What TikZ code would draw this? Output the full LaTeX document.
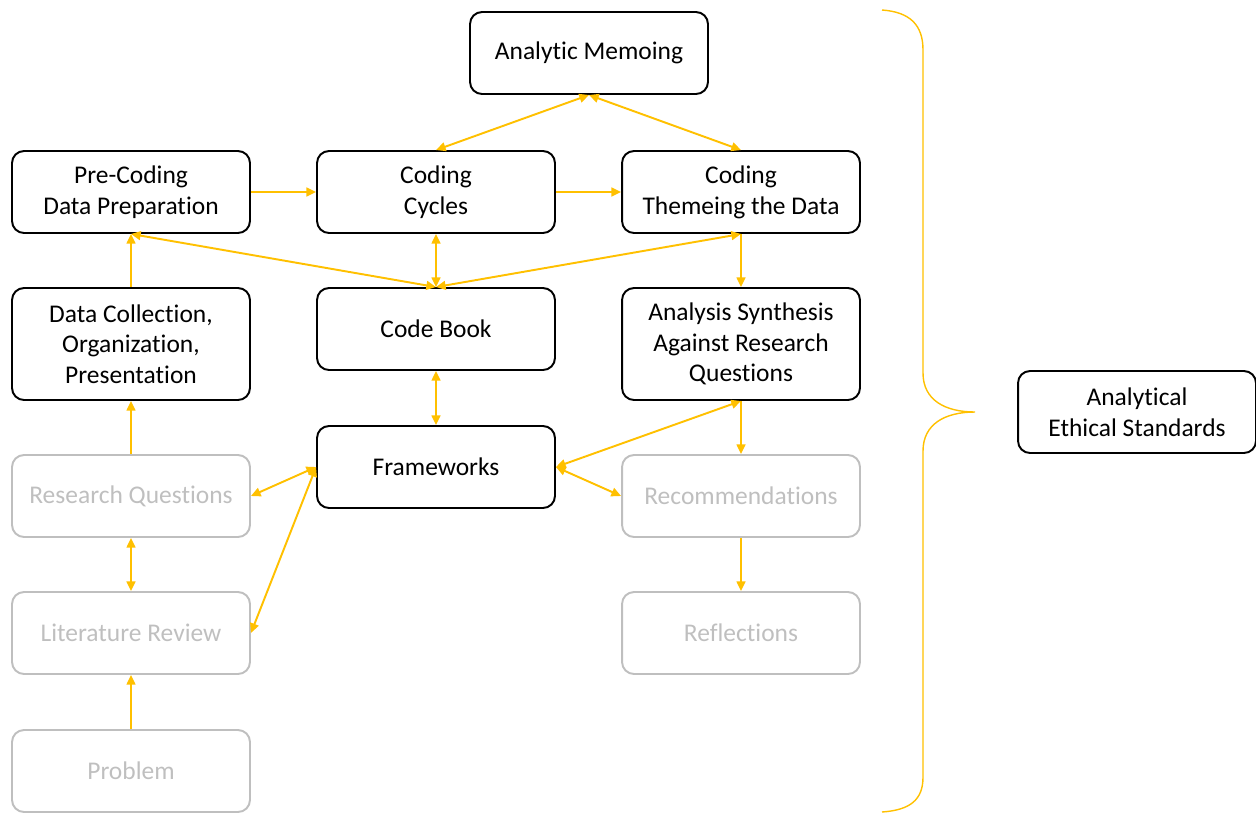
\documentclass[tikz,border=0pt]{standalone}
\usepackage{fontspec}
\setmainfont[Ligatures=NoCommon]{Carlito}
\usetikzlibrary{arrows.meta}
\definecolor{gold}{HTML}{FFC000}
\definecolor{faded}{HTML}{BFBFBF}

\begin{document}
\begin{tikzpicture}[x=0.02cm, y=-0.02cm,
  stage/.style={draw=black, line width=1.1pt, rounded corners=0.24cm, align=center,
    minimum width=4.76cm, minimum height=1.64cm, inner sep=0pt,
    font=\fontsize{14.5}{17.5}\selectfont},
  tall/.style={stage, minimum height=2.24cm},
  later/.style={stage, draw=faded, text=faded},
  flow/.style={gold, line width=1.1pt, -{Triangle[length=5.5pt, width=5pt]}},
  both/.style={flow, {Triangle[length=5.5pt, width=5pt]}-{Triangle[length=5.5pt, width=5pt]}}]
\useasboundingbox (0,0) rectangle (1256,812);

% first row
\node[stage] (memo) at (589,53) {Analytic Memoing};
\node[stage] (precode) at (131,192) {Pre-Coding\\Data Preparation};
\node[stage] (cycles) at (436,192) {Coding\\Cycles};
\node[stage] (theme) at (741,192) {Coding\\Themeing the Data};

% second row
\node[tall] (collect) at (131,344) {Data Collection,\\Organization,\\Presentation};
\node[stage] (codebook) at (436,329) {Code Book};
\node[tall] (synth) at (741,344) {Analysis Synthesis\\Against Research\\Questions};

% lower rows
\node[later] (rq) at (131,496) {Research Questions};
\node[stage] (frame) at (436,467) {Frameworks};
\node[later] (recom) at (741,496) {Recommendations};
\node[later] (lit) at (131,633) {Literature Review};
\node[later] (refl) at (741,633) {Reflections};
\node[later] (problem) at (131,771) {Problem};

\node[stage] (ethics) at (1137,412) {Analytical\\Ethical Standards};

% connectors
\draw[both] (memo.south) -- (cycles.north);
\draw[both] (memo.south) -- (theme.north);
\draw[flow] (precode) -- (cycles);
\draw[flow] (cycles) -- (theme);
\draw[both] (precode.south) -- (codebook.north);
\draw[both] (cycles.south) -- (codebook.north);
\draw[both] (theme.south) -- (codebook.north);
\draw[flow] (theme.south) -- (synth.north);
\draw[flow] (collect) -- (precode);
\draw[flow] (rq) -- (collect);
\draw[both] (codebook) -- (frame);
\draw[both] (frame.west) -- (rq.east);
\draw[both] (frame.west) -- (lit.east);
\draw[both] (frame.east) -- (synth.south);
\draw[both] (frame.east) -- (recom.west);
\draw[flow] (synth.south) -- (recom.north);
\draw[flow] (recom) -- (refl);
\draw[both] (rq) -- (lit);
\draw[flow] (problem) -- (lit);

% brace
\draw[gold, line width=0.8pt] (882,10) .. controls (910,12) and (923,25) .. (923,50)
  -- (923,373) .. controls (923,400) and (945,412) .. (975,412)
  .. controls (945,412) and (923,424) .. (923,451)
  -- (923,777) .. controls (923,800) and (910,810) .. (882,812);
\end{tikzpicture}
\end{document}
